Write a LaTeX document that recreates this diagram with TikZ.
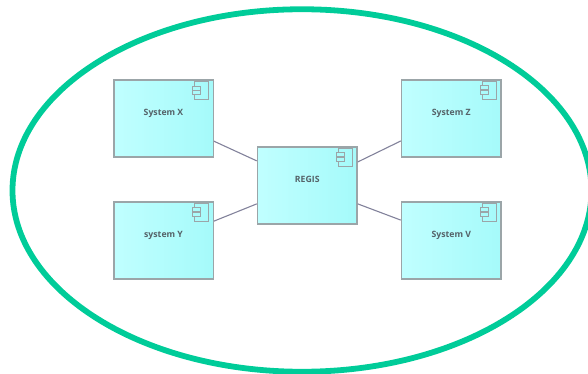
\documentclass[tikz,border=0pt]{standalone}
\usepackage{fontspec}
\setmainfont{Open Sans}
\usepackage{xcolor}
\usetikzlibrary{shapes.geometric, calc}
\definecolor{ringgreen}{RGB}{0,204,153}
\definecolor{boxline}{RGB}{155,165,168}
\definecolor{linkline}{RGB}{130,130,155}
\definecolor{boxleft}{RGB}{192,255,255}
\definecolor{boxright}{RGB}{165,250,250}
\definecolor{labeltext}{RGB}{85,98,104}
\tikzset{
    sysbox/.style = {
        draw=boxline, line width=1.5pt, left color=boxleft, right color=boxright,
        minimum width=99.5pt, minimum height=77pt, inner sep=0pt,
        font=\bfseries\fontsize{8.7}{10}\selectfont, text=labeltext,
        text depth=12.5pt
    },
    link/.style = {draw=linkline, line width=1.1pt},
    pics/compicon/.style = {
        code = {%
        \draw[boxline, line width=1pt] (-19.2,6.7) -- (-19.2,2.4) -- (-5.2,2.4) -- (-5.2,20) -- (-19.2,20) -- (-19.2,15.3);
        \draw[boxline, line width=1pt] (-21.2,6.7) rectangle (-13.6,10.7);
        \draw[boxline, line width=1pt] (-21.2,11.3) rectangle (-13.6,15.3);
        }
    },
}
\begin{document}
\begin{tikzpicture}[x=1pt, y=-1pt]
\useasboundingbox (0,0) rectangle (588,374);
\node[draw=ringgreen, line width=5.8pt, ellipse, minimum width=579pt, minimum height=362.5pt, inner sep=0pt] (ring) at (302,190.5) {};

\node[sysbox] (X) at (163.5,118.75) {System X};
\pic at (X.north east) {compicon};

\node[sysbox] (Y) at (163.5,240.5) {system Y};
\pic at (Y.north east) {compicon};

\node[sysbox] (Z) at (451.25,118.5) {System Z};
\pic at (Z.north east) {compicon};

\node[sysbox] (V) at (451.25,240.5) {System V};
\pic at (V.north east) {compicon};

\node[sysbox] (R) at (307.25,185.5) {REGIS};
\pic at (R.north east) {compicon};

\draw[link] (X.-24) -- (R.154.7);
\draw[link] (Y.21.3) -- (R.200.4);
\draw[link] (Z.204.3) -- (R.25.3);
\draw[link] (V.158.6) -- (R.-20.4);
\end{tikzpicture}
\end{document}
